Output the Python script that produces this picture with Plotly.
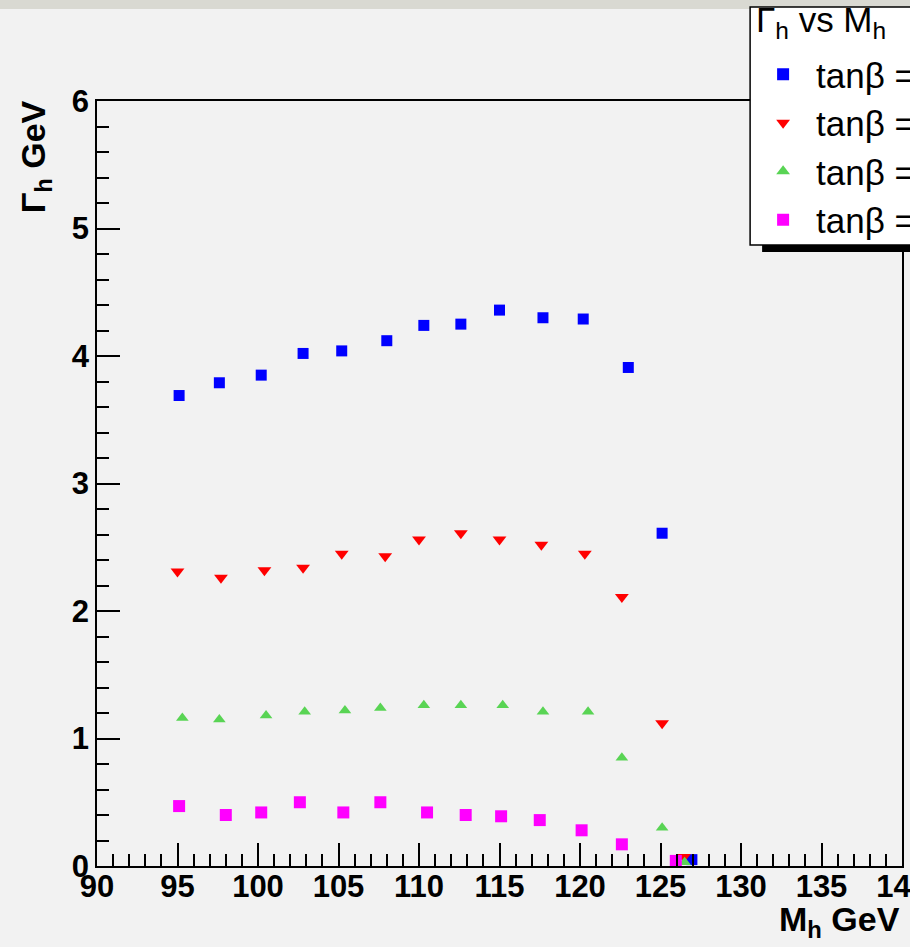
import plotly.graph_objects as go

# Higgs mass (GeV) and total width (GeV) for four tan(beta) scans
mass_blue = [95.1, 97.6, 100.2, 102.8, 105.2, 108.0, 110.3, 112.6, 115.0, 117.7, 120.2, 123.0, 125.1, 126.95]
width_blue = [3.69, 3.79, 3.85, 4.02, 4.04, 4.12, 4.24, 4.25, 4.36, 4.30, 4.29, 3.91, 2.61, 0.05]

mass_red = [95.0, 97.7, 100.4, 102.8, 105.2, 107.9, 110.0, 112.6, 115.0, 117.6, 120.3, 122.6, 125.1, 126.45]
width_red = [2.31, 2.26, 2.32, 2.34, 2.45, 2.43, 2.56, 2.61, 2.56, 2.52, 2.45, 2.11, 1.12, 0.07]

mass_green = [95.3, 97.6, 100.5, 102.9, 105.4, 107.6, 110.3, 112.6, 115.2, 117.7, 120.5, 122.6, 125.1, 126.5]
width_green = [1.16, 1.15, 1.18, 1.21, 1.22, 1.24, 1.26, 1.26, 1.26, 1.21, 1.21, 0.85, 0.30, 0.03]

mass_magenta = [95.1, 98.0, 100.2, 102.6, 105.3, 107.6, 110.5, 112.9, 115.1, 117.5, 120.1, 122.6, 125.95]
width_magenta = [0.47, 0.40, 0.42, 0.50, 0.42, 0.50, 0.42, 0.40, 0.39, 0.36, 0.28, 0.17, 0.04]

series_names = ["tanβ =", "tanβ =", "tanβ =", "tanβ ="]
x_ticks = [90, 95, 100, 105, 110, 115, 120, 125, 130, 135, 140]
y_ticks = [0, 1, 2, 3, 4, 5, 6]

W, H = 910, 947
L, R, T, B = 97.3, 8.2, 101, 81
PW, PH = W - L - R, H - T - B


def px_x(p):
    return (p - L) / PW


def px_y(p):
    return (H - B - p) / PH


FAMILY = "Liberation Sans, Arial, Helvetica"
TICKFONT = dict(family=FAMILY, size=31, color="black", weight="bold")
TITLEFONT = dict(family=FAMILY, size=34, color="black", weight="bold")
LEGFONT = dict(family=FAMILY, size=35, color="black")

fig = go.Figure()
styles = [
    (mass_blue, width_blue, "#0000ff", "square", 11),
    (mass_red, width_red, "#ff0000", "triangle-down", 12),
    (mass_green, width_green, "#59d454", "triangle-up", 11),
    (mass_magenta, width_magenta, "#ff00ff", "square", 12),
]
for (xs, ys, col, sym, sz), name in zip(styles, series_names):
    fig.add_trace(go.Scatter(
        x=xs, y=ys, mode="markers", name=name,
        marker=dict(color=col, symbol=sym, size=sz, line=dict(width=0)),
    ))

axis_common = dict(
    showgrid=False, zeroline=False, showline=True, mirror=True,
    linecolor="black", linewidth=1.5,
    ticks="inside", ticklen=23, tickwidth=1.5, tickcolor="black",
    tickfont=TICKFONT, ticklabeloverflow="allow",
)
fig.update_xaxes(range=[90, 140], tickvals=x_ticks,
                 ticktext=[str(v) for v in x_ticks],
                 minor=dict(ticks="inside", ticklen=12, dtick=1, tick0=90,
                            tickcolor="black", tickwidth=1.5),
                 ticklabelstandoff=-8, **axis_common)
fig.update_yaxes(range=[0, 6], tickvals=y_ticks,
                 ticktext=[str(v) for v in y_ticks],
                 minor=dict(ticks="inside", ticklen=12, dtick=0.2, tick0=0,
                            tickcolor="black", tickwidth=1.5),
                 ticklabelstandoff=0, **axis_common)

# axis titles, placed ROOT-style at the upper / right ends of the axes
fig.add_annotation(text="M<sub>h</sub> GeV", xref="paper", yref="paper",
                   x=1.0, y=px_y(898), xanchor="right", yanchor="top",
                   showarrow=False, font=TITLEFONT)
fig.add_annotation(text="Γ<sub>h</sub> GeV", xref="paper", yref="paper",
                   x=px_x(36), y=px_y(98), xanchor="center", yanchor="top",
                   textangle=-90, showarrow=False, font=TITLEFONT)

# strip of the surrounding page above the canvas
fig.add_shape(type="rect", xref="paper", yref="paper",
              x0=px_x(0), x1=px_x(W), y0=px_y(9), y1=px_y(0),
              fillcolor="#d9d9d2", line=dict(width=0), layer="below")

# legend frame with drop shadow
fig.add_shape(type="rect", xref="paper", yref="paper",
              x0=px_x(762), x1=px_x(1000), y0=px_y(252), y1=px_y(240),
              fillcolor="black", line=dict(width=0))
fig.add_shape(type="rect", xref="paper", yref="paper",
              x0=px_x(750), x1=px_x(990), y0=px_y(245), y1=px_y(7),
              fillcolor="white", line=dict(color="black", width=1.5))
fig.add_annotation(text="Γ<sub>h</sub> vs M<sub>h</sub>", xref="paper", yref="paper",
                   x=px_x(754), y=px_y(-2), xanchor="left", yanchor="top",
                   showarrow=False, font=LEGFONT)

fig.update_layout(
    width=W, height=H,
    margin=dict(l=L, r=R, t=T, b=B, autoexpand=False),
    paper_bgcolor="#f2f2f2", plot_bgcolor="#f2f2f2",
    legend=dict(
        x=px_x(750), y=px_y(45), xanchor="left", yanchor="top",
        bgcolor="rgba(0,0,0,0)", borderwidth=0,
        font=LEGFONT, itemsizing="constant", itemwidth=56,
    ),
    showlegend=True,
)

fig.write_html("out.html")
